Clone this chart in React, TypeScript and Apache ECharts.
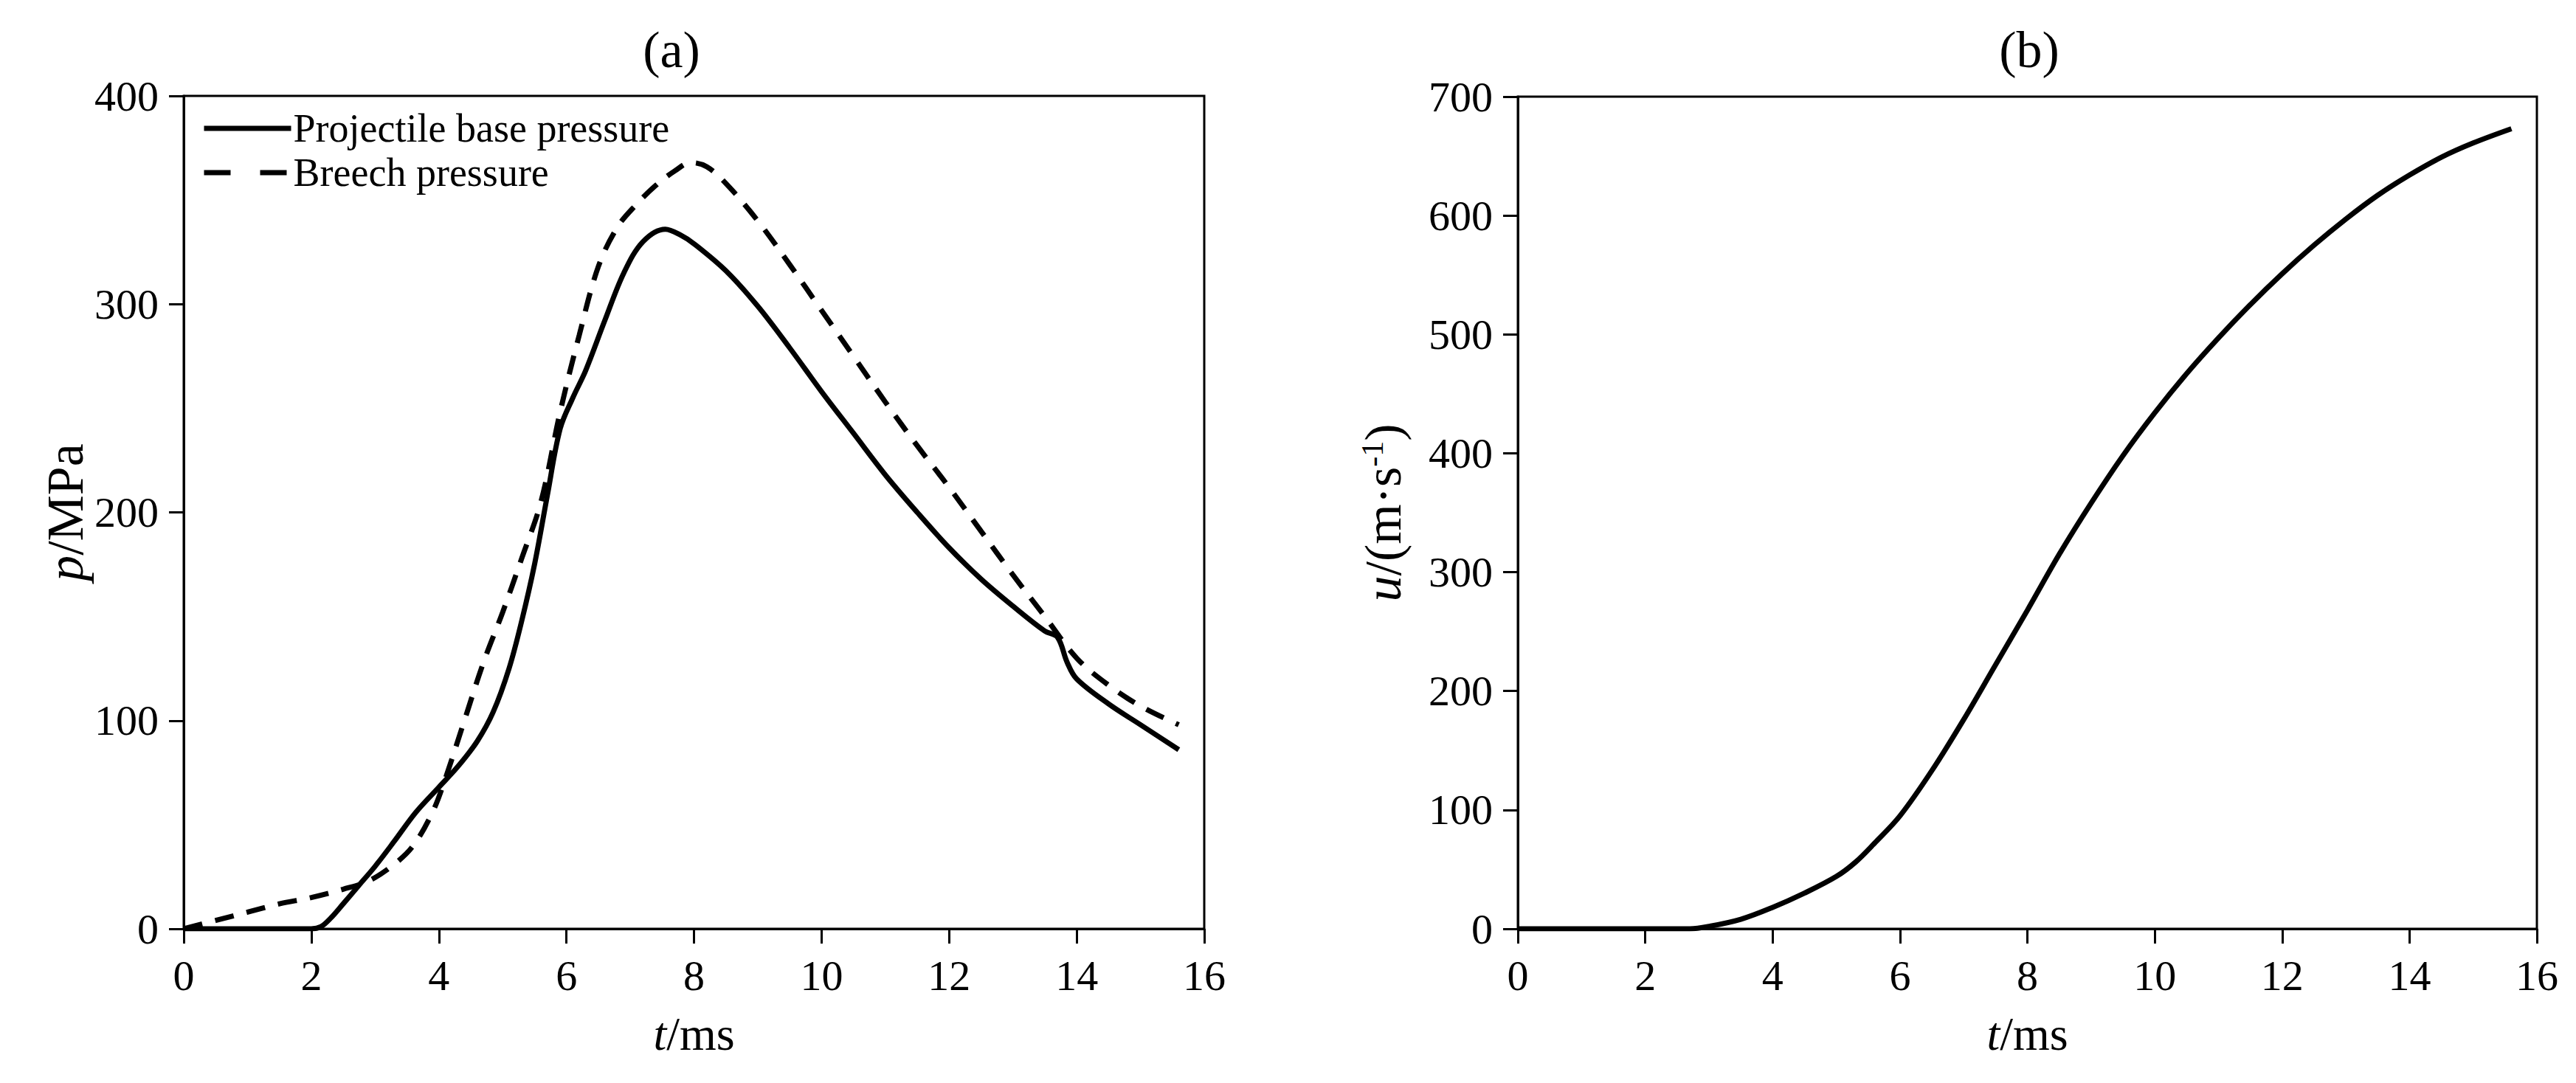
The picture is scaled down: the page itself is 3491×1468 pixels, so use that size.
import React, { useEffect, useRef } from "react";
import * as echarts from "echarts";

// ---- Data ----
const xTicks = [0, 2, 4, 6, 8, 10, 12, 14, 16];

const baseT = [0, 1, 2.0, 2.15, 2.3, 2.5, 2.75, 3.0, 3.3, 3.64, 4.0, 4.3, 4.6, 4.85, 5.1, 5.3, 5.5, 5.7, 5.9, 6.1, 6.3, 6.6, 6.9, 7.2, 7.55, 7.8, 8.0, 8.5, 9.0, 9.5, 10.0, 10.5, 11.0, 11.5, 12.0, 12.5, 13.0, 13.5, 13.7, 13.85, 14.0, 14.5, 15.0, 15.6];
const baseP = [0, 0, 0, 1, 5, 12, 21, 30, 42, 56, 68, 78, 90, 104, 125, 148, 175, 208, 240, 255, 268, 292, 315, 330, 336, 333, 329, 316, 299, 279, 258, 238, 218, 200, 183, 168, 155, 143, 140, 128, 120, 108, 98, 86];

const breechT = [0, 0.5, 1.0, 1.5, 2.0, 2.5, 2.9, 3.3, 3.6, 3.9, 4.1, 4.4, 4.7, 5.0, 5.3, 5.6, 5.9, 6.2, 6.5, 6.8, 7.1, 7.4, 7.7, 7.95, 8.2, 8.5, 9.0, 9.5, 10.0, 10.5, 11.0, 11.5, 12.0, 12.5, 13.0, 13.5, 14.0, 14.5, 15.0, 15.6];
const breechP = [0, 4, 8, 12, 15, 19, 23, 31, 40, 56, 72, 100, 128, 152, 178, 205, 248, 285, 318, 337, 348, 357, 364, 368, 366, 358, 340, 319, 297, 275, 253, 232, 212, 191, 170, 150, 130, 117, 107, 98];

const velT = [0, 1, 2, 2.7, 3.0, 3.5, 4.0, 4.5, 5.0, 5.3, 5.6, 6.0, 6.5, 7.0, 7.5, 8.0, 8.5, 9.0, 9.5, 10.0, 10.5, 11.0, 11.5, 12.0, 12.5, 13.0, 13.5, 14.0, 14.5, 15.0, 15.6];
const velU = [0, 0, 0, 0, 2, 8, 18, 30, 44, 56, 72, 95, 133, 176, 222, 268, 315, 358, 398, 434, 467, 497, 525, 551, 575, 597, 617, 634, 649, 661, 673];

const seriesNames = ["Projectile base pressure", "Breech pressure"];
const titles = ["(a)", "(b)"];

const zip = (a: number[], b: number[]) => a.map((v, i) => [v, b[i]]);

const FONT = "'Liberation Serif', 'Times New Roman', serif";

export default function App() {
  const ref = useRef<HTMLDivElement>(null);
  useEffect(() => {
    document.body.style.margin = "0";
    const chart = echarts.init(ref.current!, null, { renderer: "svg" });
    const axisLine = { show: true, lineStyle: { color: "#000", width: 3 } };
    const axisTick = { show: true, inside: false, length: 20, lineStyle: { color: "#000", width: 3 } };
    const axisLabel = { color: "#000", fontSize: 58, fontFamily: FONT, margin: 34 };
    const makeNameStyle = (fs: number) => ({
      color: "#000",
      fontSize: fs,
      fontFamily: FONT,
      rich: {
        i: { fontStyle: "italic", fontSize: fs, fontFamily: FONT, color: "#000" },
        n: { fontSize: fs, fontFamily: FONT, color: "#000" },
        sup: { fontSize: Math.round(fs * 0.6), fontFamily: FONT, color: "#000", verticalAlign: "top" },
      },
    });
    const xAxisBase = (gridIndex: number) => ({
      type: "value",
      gridIndex,
      min: 0,
      max: 16,
      interval: 2,
      axisLine,
      axisTick,
      axisLabel,
      splitLine: { show: false },
      name: "{i|t}{n|/ms}",
      nameLocation: "middle",
      nameGap: 110,
      nameTextStyle: makeNameStyle(64),
    });
    const lineSeries = (name: string, xi: number, data: number[][], type: any) => ({
      name,
      type: "line",
      xAxisIndex: xi,
      yAxisIndex: xi,
      data,
      showSymbol: false,
      symbol: "none",
      smooth: 0.35,
      lineStyle: { color: "#000", width: 7, type },
      itemStyle: { color: "#000" },
    });
    const option: any = {
      animation: false,
      backgroundColor: "#fff",
      grid: [
        { left: 249, top: 130, width: 1383, height: 1129, show: true, borderColor: "#000", borderWidth: 3, backgroundColor: "transparent" },
        { left: 2057, top: 131, width: 1381, height: 1128, show: true, borderColor: "#000", borderWidth: 3, backgroundColor: "transparent" },
      ],
      graphic: [
        { type: "text", x: 910, y: 67, style: { text: titles[0], fontSize: 70, fontFamily: FONT, fill: "#000", align: "center", verticalAlign: "middle" } },
        { type: "text", x: 2750, y: 67, style: { text: titles[1], fontSize: 70, fontFamily: FONT, fill: "#000", align: "center", verticalAlign: "middle" } },
      ],
      legend: {
        left: 268,
        top: 142,
        orient: "vertical",
        itemWidth: 118,
        itemHeight: 20,
        itemGap: 6,
        itemStyle: { opacity: 0 },
        lineStyle: { width: 7, color: "#000" },
        textStyle: { color: "#000", fontSize: 54, fontFamily: FONT, padding: [0, 0, 0, -2] },
        data: [
          { name: seriesNames[0] },
          { name: seriesNames[1], lineStyle: { type: [36, 40], width: 7, color: "#000" } },
        ],
      },
      xAxis: [xAxisBase(0), xAxisBase(1)],
      yAxis: [
        {
          type: "value",
          gridIndex: 0,
          min: 0,
          max: 400,
          interval: 100,
          axisLine,
          axisTick,
          axisLabel,
          splitLine: { show: false },
          name: "{i|p}{n|/MPa}",
          nameLocation: "middle",
          nameRotate: 90,
          nameGap: 126,
          nameTextStyle: makeNameStyle(70),
        },
        {
          type: "value",
          gridIndex: 1,
          min: 0,
          max: 700,
          interval: 100,
          axisLine,
          axisTick,
          axisLabel,
          splitLine: { show: false },
          name: "{i|u}{n|/(m·s}{sup|-1}{n|)}",
          nameLocation: "middle",
          nameRotate: 90,
          nameGap: 148,
          nameTextStyle: makeNameStyle(70),
        },
      ],
      series: [
        lineSeries(seriesNames[0], 0, zip(baseT, baseP), "solid"),
        lineSeries(seriesNames[1], 0, zip(breechT, breechP), [26, 18]),
        lineSeries("velocity", 1, zip(velT, velU), "solid"),
      ],
    };
    chart.setOption(option);
    return () => chart.dispose();
  }, []);
  return <div ref={ref} style={{ position: "absolute", left: 0, top: 0, width: 3491, height: 1468 }} />;
}
